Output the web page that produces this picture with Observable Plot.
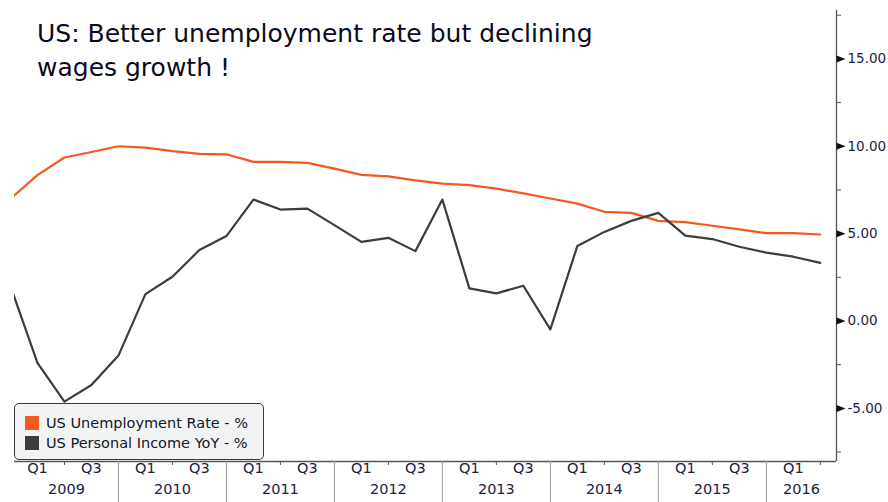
<!DOCTYPE html>
<html>
<head>
<meta charset="utf-8">
<script src="https://cdn.jsdelivr.net/npm/d3@7"></script>
<script src="https://cdn.jsdelivr.net/npm/@observablehq/plot@0.6"></script>
<style>
  html, body { margin: 0; padding: 0; background: #fff; }
  #wrap { position: relative; width: 888px; height: 502px; font-family: "DejaVu Sans", sans-serif; }
  #title { position: absolute; left: 37px; top: 17px; font-size: 25px; line-height: 34px; color: #0a0a1a; }
  #legend { position: absolute; left: 14px; top: 403px; width: 250px; height: 57px; box-sizing: border-box;
            border: 1px solid #3a3a3a; border-radius: 5px; background: #f2f4f4; }
  .item { position: absolute; left: 10px; height: 16px; display: flex; align-items: center; font-size: 14.5px; color: #14142a; white-space: nowrap; }
  .sw { width: 14px; height: 14px; margin-right: 7px; }
</style>
</head>
<body>
<div id="wrap">
  <div id="chart"></div>
  <div id="title">US: Better unemployment rate but declining<br>wages growth !</div>
  <div id="legend"></div>
</div>
<script>
// Quarters from 2008 Q4 to 2016 Q2 (quarter-end observations)
const quarters = ["2008Q4",
  "2009Q1","2009Q2","2009Q3","2009Q4",
  "2010Q1","2010Q2","2010Q3","2010Q4",
  "2011Q1","2011Q2","2011Q3","2011Q4",
  "2012Q1","2012Q2","2012Q3","2012Q4",
  "2013Q1","2013Q2","2013Q3","2013Q4",
  "2014Q1","2014Q2","2014Q3","2014Q4",
  "2015Q1","2015Q2","2015Q3","2015Q4",
  "2016Q1","2016Q2"];
const unemployment = [7.0, 8.35, 9.36, 9.67, 10.0, 9.92, 9.72, 9.56, 9.54, 9.11, 9.11, 9.05, 8.72, 8.36, 8.28, 8.05,
  7.86, 7.78, 7.58, 7.30, 7.01, 6.72, 6.25, 6.19, 5.73, 5.66, 5.45, 5.24, 5.03, 5.03, 4.95];
const personalIncome = [2.0, -2.39, -4.61, -3.66, -1.98, 1.54, 2.53, 4.06, 4.86, 6.95, 6.38, 6.43, 5.49, 4.53, 4.76, 4.0,
  6.95, 1.87, 1.58, 2.02, -0.48, 4.29, 5.10, 5.73, 6.19, 4.89, 4.69, 4.25, 3.91, 3.68, 3.33];
const seriesNames = ["US Unemployment Rate - %", "US Personal Income YoY - %"];
const seriesColors = ["#f4581f", "#3d3d3d"];
const years = [2009, 2010, 2011, 2012, 2013, 2014, 2015, 2016];
const quarterLabels = ["Q1", "Q3"];
const yTicks = [-5, 0, 5, 10, 15];
const yMinorTicks = [-7.5, -2.5, 2.5, 7.5, 12.5, 17.5];
const xDomain = [0.15, 30.6];   // quarter index (0 = end of 2008 Q4)
const yDomain = [-8.04, 17.77];

const firstYear = 2009;
const rows = [];
quarters.forEach((q, i) => {
  rows.push({i, q, value: unemployment[i], series: seriesNames[0]});
  rows.push({i, q, value: personalIncome[i], series: seriesNames[1]});
});
const qLab = [];
years.forEach(y => {
  const base = (y - firstYear) * 4;
  qLab.push({i: base + 1, label: quarterLabels[0]});
  qLab.push({i: base + 3, label: quarterLabels[1]});
});
const qLabVis = qLab.filter(d => d.i >= xDomain[0] && d.i <= xDomain[1]);
const yearLab = years.map(y => {
  const s = Math.max((y - firstYear) * 4, xDomain[0]);
  const e = Math.min((y - firstYear) * 4 + 4, xDomain[1]);
  return {i: (s + e) / 2, label: String(y)};
});
const yearBounds = years.map(y => (y - firstYear) * 4).filter(v => v > xDomain[0] && v < xDomain[1]);
const midTicks = years.map(y => (y - firstYear) * 4 + 2).filter(v => v > xDomain[0] && v < xDomain[1]);

const W = 888, H = 502, mL = 14, mR = 52, mT = 10, mB = 41;
const frameW = W - mL - mR, frameH = H - mT - mB;
const labelColor = "#1c2244";
const fam = "'DejaVu Sans', sans-serif";

const tri = {draw(ctx) { ctx.moveTo(0, -3.5); ctx.lineTo(9, 0); ctx.lineTo(0, 3.5); ctx.closePath(); }};

const chart = Plot.plot({
  width: W, height: H,
  marginLeft: mL, marginRight: mR, marginTop: mT, marginBottom: mB,
  x: {type: "linear", domain: xDomain, axis: null},
  y: {domain: yDomain, axis: null},
  style: {fontFamily: fam, background: "white", overflow: "visible"},
  marks: [
    Plot.line(rows, {x: "i", y: "value", z: "series",
      stroke: d => seriesColors[seriesNames.indexOf(d.series)], strokeWidth: 2.2, clip: true}),
    // frame lines (right and bottom)
    Plot.ruleX([xDomain[1]], {stroke: "#555", strokeWidth: 1.3}),
    Plot.ruleY([yDomain[0]], {stroke: "#555", strokeWidth: 1.3}),
    // year separators below axis
    Plot.ruleX(yearBounds, {stroke: "#9a9a9a", strokeWidth: 1, insetTop: frameH, insetBottom: -mB}),
    Plot.ruleX(midTicks, {stroke: "#555", strokeWidth: 1, insetTop: frameH, insetBottom: -4}),
    // quarter and year labels
    Plot.text(qLabVis, {x: "i", text: "label", frameAnchor: "bottom", dy: 11, fill: labelColor, fontSize: 14.5}),
    Plot.text(yearLab, {x: "i", text: "label", frameAnchor: "bottom", dy: 32, fill: labelColor, fontSize: 14.5}),
    // right axis
    Plot.ruleY(yMinorTicks, {stroke: "#555", insetLeft: frameW, insetRight: -5}),
    Plot.dot(yTicks, {y: d => d, frameAnchor: "right", symbol: tri, fill: "#111", stroke: null, r: 4}),
    Plot.text(yTicks, {y: d => d, text: d => d.toFixed(2), frameAnchor: "right", dx: 11,
      textAnchor: "start", fill: labelColor, fontSize: 13.5})
  ]
});
document.getElementById("chart").appendChild(chart);

const legend = document.getElementById("legend");
seriesNames.forEach((name, k) => {
  const it = document.createElement("div");
  it.className = "item";
  it.style.top = (11 + k * 20) + "px";
  const sw = document.createElement("span");
  sw.className = "sw";
  sw.style.background = seriesColors[k];
  it.appendChild(sw);
  it.appendChild(document.createTextNode(name));
  legend.appendChild(it);
});
</script>
</body>
</html>
